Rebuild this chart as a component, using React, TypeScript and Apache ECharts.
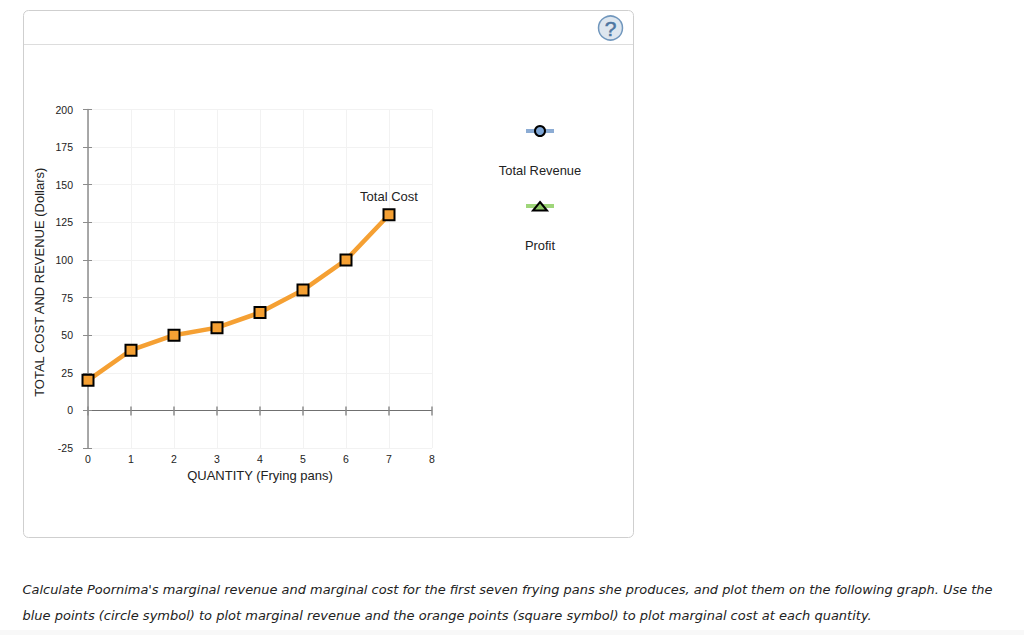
import React, { useEffect, useRef } from "react";
import * as echarts from "echarts";

const quantities = [0, 1, 2, 3, 4, 5, 6, 7, 8];
const totalCost = [20, 40, 50, 55, 65, 80, 100, 130];
const legendLabels = ["Total Revenue", "Profit"];
const xTitle = "QUANTITY (Frying pans)";
const yTitle = "TOTAL COST AND REVENUE (Dollars)";
const seriesName = "Total Cost";
const captionLines = [
  "Calculate Poornima's marginal revenue and marginal cost for the first seven frying pans she produces, and plot them on the following graph. Use the",
  "blue points (circle symbol) to plot marginal revenue and the orange points (square symbol) to plot marginal cost at each quantity.",
];

const SANS = '"Liberation Sans", Arial, sans-serif';
const AXIS = "#8c8c8c";
const GRID = "#f2f2f2";

export default function App() {
  const ref = useRef<HTMLDivElement>(null);
  useEffect(() => {
    const chart = echarts.init(ref.current!, undefined, { renderer: "svg" });
    const xBase = { type: "value", min: 0, max: 8, interval: 1, position: "bottom" };
    const yBase = { type: "value", min: -25, max: 200, interval: 25, position: "left" };
    chart.setOption({
      animation: false,
      backgroundColor: "#ffffff",
      textStyle: { fontFamily: SANS },
      grid: { left: 88, top: 109.5, width: 344, height: 338.5 },
      xAxis: [
        {
          ...xBase,
          name: xTitle,
          nameLocation: "middle",
          nameGap: 19,
          nameTextStyle: { fontSize: 13, color: "#222", fontFamily: SANS },
          axisLine: { onZero: true, lineStyle: { color: "#707070", width: 1 } },
          axisTick: { show: true, length: 5, lineStyle: { color: AXIS, width: 1.5 } },
          axisLabel: { margin: 5, fontSize: 10.5, color: "#222", fontFamily: SANS, showMinLabel: true, showMaxLabel: true },
          splitLine: { show: true, lineStyle: { color: GRID, width: 1 } },
        },
        {
          ...xBase,
          axisLine: { onZero: true, show: false },
          axisTick: { show: true, inside: true, length: 4, lineStyle: { color: AXIS, width: 1.5 } },
          axisLabel: { show: false },
          splitLine: { show: false },
        },
      ],
      yAxis: [
        {
          ...yBase,
          name: yTitle,
          nameLocation: "middle",
          nameGap: 42,
          nameTextStyle: { fontSize: 13, color: "#222", fontFamily: SANS, padding: [0, 7, 0, 0] },
          axisLine: { show: true, onZero: true, lineStyle: { color: AXIS, width: 1.5 } },
          axisTick: { show: true, length: 5, lineStyle: { color: AXIS } },
          axisLabel: { margin: 15, fontSize: 10.5, color: "#222", fontFamily: SANS, showMinLabel: true, showMaxLabel: true },
          splitLine: { show: true, lineStyle: { color: GRID, width: 1 } },
        },
        {
          ...yBase,
          axisLine: { show: false, onZero: true },
          axisTick: { show: true, inside: true, length: 4, lineStyle: { color: AXIS } },
          axisLabel: { show: false },
          splitLine: { show: false },
        },
      ],
      series: [
        {
          name: seriesName,
          type: "line",
          xAxisIndex: 0,
          yAxisIndex: 0,
          data: totalCost.map((v, i) => [quantities[i], v]),
          z: 5,
          lineStyle: { color: "#f5a033", width: 4.5 },
          symbol: "rect",
          symbolSize: 11,
          showAllSymbol: true,
          itemStyle: { color: "#f5a033", borderColor: "#000", borderWidth: 2, opacity: 1 },
          label: {
            show: true,
            position: "top",
            distance: 5,
            fontSize: 13,
            color: "#222",
            fontFamily: SANS,
            formatter: (p: any) => (p.dataIndex === totalCost.length - 1 ? seriesName : ""),
          },
        },
      ],
      graphic: [
        { type: "rect", silent: true, z: -10, shape: { x: 0, y: 630, width: 1024, height: 5 }, style: { fill: "#f8f8f8" } },
        { type: "rect", silent: true, z: -9, shape: { x: 23.5, y: 10.5, width: 610, height: 527, r: 5 }, style: { fill: "#fff", stroke: "#cfcfcf", lineWidth: 1 } },
        { type: "line", silent: true, z: -8, shape: { x1: 24, y1: 44.5, x2: 633, y2: 44.5 }, style: { stroke: "#dddddd", lineWidth: 1 } },
        { type: "circle", silent: true, shape: { cx: 610.5, cy: 28, r: 12 }, style: { fill: "#dde6ef", stroke: "#7197bd", lineWidth: 1.5 } },
        { type: "text", silent: true, x: 610.5, y: 28.5, style: { text: "?", font: `21px ${SANS}`, fill: "#4d76a1", stroke: "#4d76a1", lineWidth: 0.5, align: "center", verticalAlign: "middle" } },

        { type: "line", silent: true, shape: { x1: 526, y1: 131, x2: 554, y2: 131 }, style: { stroke: "#8cacd4", lineWidth: 4 } },
        { type: "circle", silent: true, shape: { cx: 540, cy: 131, r: 5 }, style: { fill: "#7ea6d6", stroke: "#000", lineWidth: 2 } },
        { type: "text", silent: true, x: 540, y: 170, style: { text: legendLabels[0], font: `12.9px ${SANS}`, fill: "#222", align: "center", verticalAlign: "middle" } },

        { type: "line", silent: true, shape: { x1: 526, y1: 206, x2: 554, y2: 206 }, style: { stroke: "#9fd67a", lineWidth: 4 } },
        { type: "polygon", silent: true, shape: { points: [[540, 202], [547, 210.5], [533, 210.5]] }, style: { fill: "#8cc864", stroke: "#000", lineWidth: 2 } },
        { type: "text", silent: true, x: 540, y: 245, style: { text: legendLabels[1], font: `12.9px ${SANS}`, fill: "#222", align: "center", verticalAlign: "middle" } },

        { type: "text", silent: true, x: 22.5, y: 589, style: { text: captionLines[0], font: `italic 12.95px "DejaVu Sans", sans-serif`, fill: "#222", align: "left", verticalAlign: "middle" } },
        { type: "text", silent: true, x: 22.5, y: 615, style: { text: captionLines[1], font: `italic 13px "DejaVu Sans", sans-serif`, fill: "#222", align: "left", verticalAlign: "middle" } },
      ],
    });
    return () => chart.dispose();
  }, []);
  return <div ref={ref} style={{ position: "absolute", left: 0, top: 0, width: 1024, height: 635 }} />;
}
